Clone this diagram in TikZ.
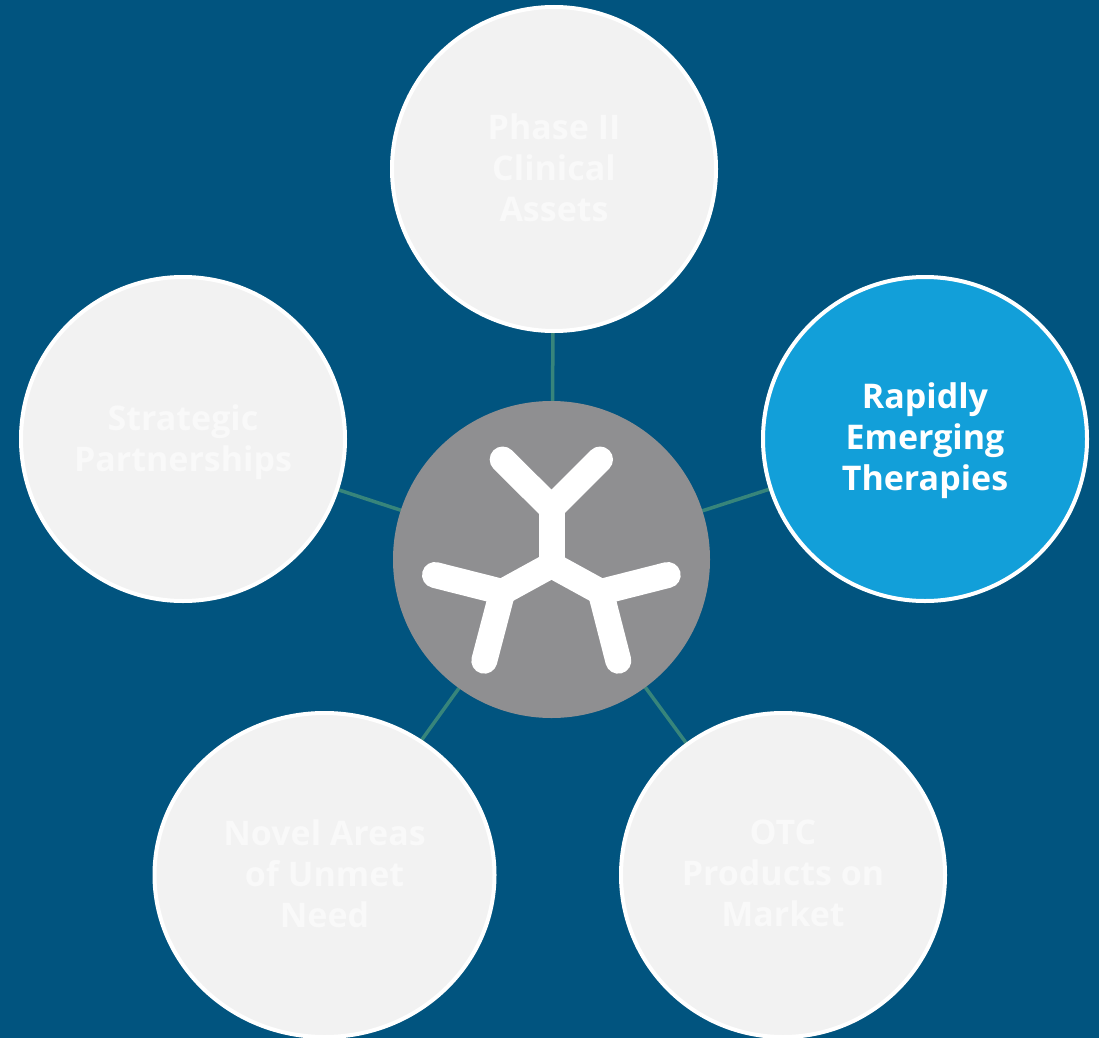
\documentclass[tikz,border=0pt]{standalone}
\usepackage{fontspec}
\setmainfont{Open Sans}
\usetikzlibrary{shapes.geometric,backgrounds}
\definecolor{bgblue}{HTML}{01547F}
\definecolor{lightfill}{HTML}{F2F2F2}
\definecolor{faint}{HTML}{F9F9F9}
\definecolor{accent}{HTML}{129FD9}
\definecolor{hub}{HTML}{8F8F91}
\definecolor{spoke}{HTML}{37857B}
\tikzset{
  petal/.style={ellipse,draw=white,line width=4pt,fill=lightfill,inner sep=0pt,outer sep=0pt,
    minimum width=324pt,minimum height=324pt},
  petalwide/.style={petal,minimum width=340pt},
  petalactive/.style={petal,fill=accent},
  petaltext/.style={text=faint,align=center,inner sep=0pt,
    font=\fontsize{34}{41}\selectfont\bfseries},
  activetext/.style={petaltext,text=white},
  hubdisc/.style={circle,fill=hub,inner sep=0pt,outer sep=0pt,minimum size=317pt},
  spokeline/.style={draw=spoke,line width=3.5pt},
  antibody/.style={draw=white,line width=26pt,line cap=round,line join=miter,miter limit=10},
  stemline/.style={draw=white,line width=26pt,line cap=butt}
}
\begin{document}
\begin{tikzpicture}[x=1pt,y=-1pt]
\useasboundingbox (0,0) rectangle (1099,1038);
\clip (0,0) rectangle (1099,1038);
\node[hubdisc] (hub) at (551.5,559.5) {};
\node[petal] (phase) at (554,169) {};
\node[petalactive] (rapid) at (925,439) {};
\node[petal] (strat) at (183,439) {};
\node[petalwide] (novel) at (324.5,875) {};
\node[petal] (otc) at (783,875) {};
\node[petaltext,yshift=1.5pt] (phaselabel) at (phase) {Phase II\\Clinical\\Assets};
\node[activetext,yshift=-1.5pt] (rapidlabel) at (rapid) {Rapidly\\Emerging\\Therapies};
\node[petaltext,yshift=-3pt] (stratlabel) at (strat) {Strategic\\Partnerships};
\node[petaltext,yshift=1.5pt] (novellabel) at (novel) {Novel Areas\\of Unmet\\Need};
\node[petaltext,yshift=1.5pt] (otclabel) at (otc) {OTC\\Products on\\Market};
\begin{scope}[on background layer]
  \fill[bgblue] (0,0) rectangle (1099,1038);
  \draw[spokeline] (hub) -- (phase);
  \draw[spokeline] (hub) -- (rapid);
  \draw[spokeline] (hub) -- (strat);
  \draw[spokeline] (hub) -- (novel);
  \draw[spokeline] (hub) -- (otc);
\end{scope}
% antibody glyph
\coordinate (core) at (551.5,565);
\coordinate (jt) at (551.5,508);
\coordinate (jl) at (502.3,592);
\coordinate (jr) at (600.7,592);
\draw[stemline] (core) -- (jt);
\draw[stemline] (core) -- (jl);
\draw[stemline] (core) -- (jr);
\fill[white] (core) circle (13pt);
\draw[antibody] (502.7,459.5) -- (jt) -- (600,459.5);
\draw[antibody] (435,575) -- (jl) -- (484.3,660.7);
\draw[antibody] (667.7,575) -- (jr) -- (618.3,660.7);
\end{tikzpicture}
\end{document}
